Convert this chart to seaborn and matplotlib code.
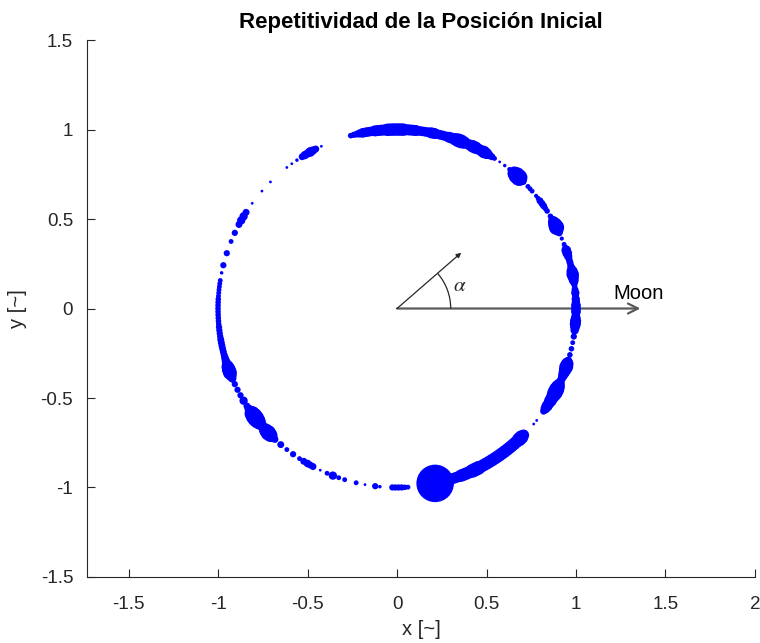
import numpy as np
import pandas as pd
import matplotlib
matplotlib.use("Agg")
import matplotlib.pyplot as plt
from matplotlib.patches import Arc, FancyArrowPatch
import seaborn as sns

# Initial position samples: angle on the unit orbit (deg) and marker weight
angle_deg = [
    0, 1, 2, 3, 4, 5, 6, 7, 8, 9, 10, 11, 12, 13, 14, 15, 16, 17, 18, 19, 20, 21,
    23, 25, 26, 27, 28, 29, 30, 31, 33, 34, 35, 36, 37, 38, 39, 41, 42, 43, 45,
    46, 47, 48, 49, 50, 51, 53, 55, 57, 58, 59, 60, 61, 62, 63, 64, 65, 66, 67,
    68, 69, 70, 71, 72, 73, 74, 75, 76, 77, 78, 79, 80, 81, 82, 83, 84, 85, 86,
    87, 88, 89, 90, 91, 92, 93, 94, 95, 96, 97, 98, 99, 100, 101, 102, 103, 104,
    105,
    115, 117, 118, 119, 120, 121, 122, 124, 126, 128, 135, 139, 144, 147.5, 149,
    150.5, 152, 155, 158, 162, 166, 168.5, 171, 172, 173, 174, 175, 176, 177,
    178, 179, 180, 181, 182, 183, 184, 185, 186, 187, 188, 189, 190, 191, 192,
    193, 194, 195, 196, 197, 198, 199, 200, 201, 202, 203, 205, 207, 209, 211,
    213, 214, 215, 216, 217, 218, 219, 220, 221, 222, 223, 224, 225, 226, 227,
    229.5, 232, 234.5, 237, 238.6, 240, 241, 242, 244.6, 247, 249, 251, 253,
    256.8, 259.7, 263, 264.5, 268.5, 269.5, 270.5, 271.5, 272.5, 273.5,
    282.3, 284, 285, 286, 287, 288, 289, 290, 291, 292, 293, 294, 295, 296, 297,
    298, 299, 300, 301, 302, 303, 304, 305, 306, 307, 308, 309, 310, 311, 312,
    313, 314, 315, 319.8, 321.3, 325, 326, 327, 328, 329, 330, 331, 332, 333,
    334, 335, 336, 337, 338, 339, 340, 341, 342, 343, 345, 347, 349, 351, 353,
    354, 355, 356, 357, 358, 359,
]
weight = [
    7, 7, 6, 6, 5, 6, 5, 4, 5, 7, 8, 9, 8, 6, 5, 5, 5, 6, 7, 7, 4, 3.5,
    3, 5, 8, 11, 10, 8, 5, 4, 4, 4, 5, 5, 5, 3.5, 3, 3.5, 3.5, 3.5, 4,
    8, 12, 12, 10, 5, 3.5, 2.5, 2, 3.5, 5, 6, 8, 9, 8, 8, 9, 9, 8, 7,
    9, 10, 10, 9, 8, 8, 7, 7, 7, 7, 8, 8, 7, 7, 7, 7, 8, 8, 8,
    8, 9, 9, 9, 9, 9, 9, 8, 8, 8, 8, 7, 7, 7, 7, 6, 5, 4.5,
    4,
    2, 5, 6, 7, 6, 6, 5, 2.5, 2, 2, 2, 2, 2, 5, 6,
    6, 5, 4.5, 3.5, 4.5, 4.5, 2.5, 3.5, 3.5, 3.5, 3.5, 3.5, 3.5, 4,
    4, 4, 4, 4, 4, 4, 4, 4, 4.5, 4.5, 4.5, 4.5, 5, 5, 5,
    5, 5, 5, 5.5, 6, 7, 9, 10, 10, 8, 6, 4.5, 4.5, 4.5, 6,
    5, 6, 8, 11, 12, 12, 11, 9, 7, 8, 10, 11, 10, 7, 5,
    5, 3.5, 4.5, 3.5, 5, 5.5, 5, 5, 2, 3.5, 6, 3.5, 3.5,
    3.5, 2, 4.5, 2.5, 4.5, 4.5, 4.5, 4.5, 4, 3.5,
    27, 9, 8, 8, 8, 8, 8, 8, 9, 9, 9, 9, 10, 10, 10,
    9, 9, 9, 9, 9, 9, 9, 9, 9, 9, 9, 9, 9, 9, 9,
    10, 10, 8, 2, 2, 5, 7, 8, 8, 9, 9, 10, 11, 11,
    10, 8, 6, 6, 7, 8, 9, 10, 9, 6, 4, 4, 3.5, 4.5, 6,
    7, 8, 8, 7, 6, 7,
]

x_ticks = [-1.5, -1, -0.5, 0, 0.5, 1, 1.5, 2]
y_ticks = [-1.5, -1, -0.5, 0, 0.5, 1, 1.5]
tick_labels_x = ["-1.5", "-1", "-0.5", "0", "0.5", "1", "1.5", "2"]
tick_labels_y = ["-1.5", "-1", "-0.5", "0", "0.5", "1", "1.5"]

moon_dir = 1.36
alpha_angle = 41.0

theta = np.deg2rad(np.array(angle_deg))
df = pd.DataFrame({
    "x": np.cos(theta),
    "y": np.sin(theta),
    # marker area in pt^2: the weight is the marker diameter in points
    "area": np.array(weight, dtype=float) ** 2,
})

sns.set_theme(style="white")
plt.rcParams["font.family"] = ["Liberation Sans", "DejaVu Sans"]
plt.rcParams["mathtext.fontset"] = "stix"

fig = plt.figure(figsize=(7.6, 6.43), dpi=100)
ax = fig.add_axes([0.1145, 0.1026, 0.8789, 0.8352])

sns.scatterplot(data=df, x="x", y="y", s=df["area"].to_numpy(),
                color="#0000ff", linewidth=0, legend=False, ax=ax, zorder=3)

ink = "#262626"
# Reference direction towards the Moon
ax.add_patch(FancyArrowPatch((0, 0), (moon_dir, 0), arrowstyle="->",
                             mutation_scale=18, color="#5a5a5a", lw=1.6,
                             shrinkA=0, shrinkB=0, zorder=2))
ax.text(1.207, 0.03, "Moon", fontsize=14.5, color="black",
        ha="left", va="bottom")

# Angle alpha indicator
r_arrow = 0.475
a = np.deg2rad(alpha_angle)
ax.add_patch(FancyArrowPatch((0, 0), (r_arrow * np.cos(a), r_arrow * np.sin(a)),
                             arrowstyle="-|>", mutation_scale=7, color=ink,
                             lw=0.9, shrinkA=0, shrinkB=0, zorder=2))
ax.add_patch(Arc((0, 0), 0.6, 0.6, theta1=0, theta2=alpha_angle,
                 color=ink, lw=0.9, zorder=2))
ax.text(0.352, 0.128, r"$\alpha$", fontsize=15, color=ink,
        ha="center", va="center")

ax.set_xlim(-1.732, 2.0)
ax.set_ylim(-1.5, 1.5)
ax.set_aspect("equal", adjustable="box")
ax.set_xticks(x_ticks, tick_labels_x)
ax.set_yticks(y_ticks, tick_labels_y)
ax.tick_params(direction="in", length=6, width=0.8, colors=ink,
               labelsize=13.5, bottom=True, left=True)
ax.tick_params(axis="x", pad=14)
ax.tick_params(axis="y", pad=10)
for side in ["top", "right"]:
    ax.spines[side].set_visible(False)
for side in ["left", "bottom"]:
    ax.spines[side].set_color(ink)
    ax.spines[side].set_linewidth(0.8)

ax.set_xlabel("x [~]", fontsize=14.5, color=ink, labelpad=5)
ax.set_ylabel("y [~]", fontsize=14.5, color=ink, labelpad=10)
ax.set_title("Repetitividad de la Posición Inicial", fontsize=16,
             fontweight="bold", color="black", pad=9)

fig.savefig("out.png", dpi=100)
